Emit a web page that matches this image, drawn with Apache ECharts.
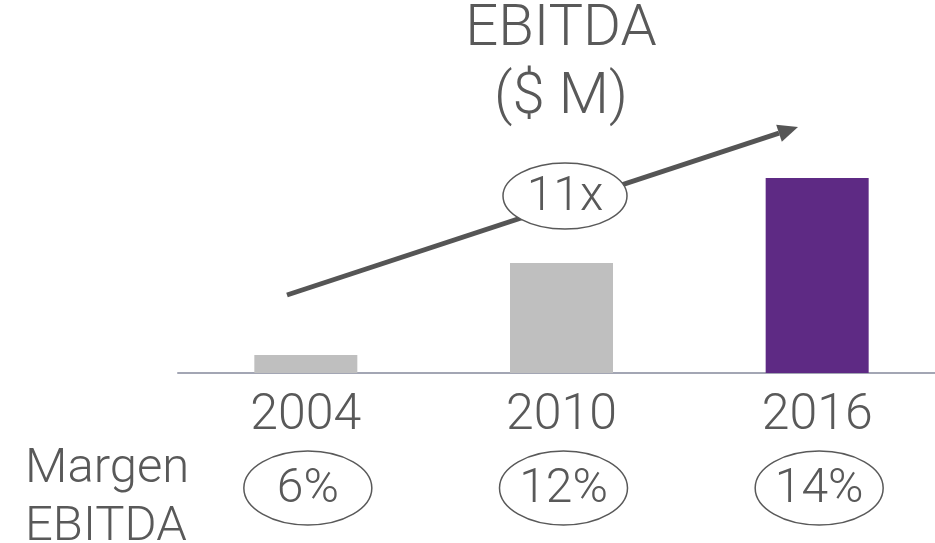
<!DOCTYPE html>
<html>
<head>
    <meta charset="utf-8">
    <title>EBITDA</title>
    <script src="https://cdn.jsdelivr.net/npm/echarts@6/dist/echarts.min.js"></script>
    <style>
        html, body { margin: 0; padding: 0; background: #fff; }
    </style>
</head>
<body>
    <div id="main" style="width: 935px;height:543px;"></div>
    <script type="text/javascript">
        // datos
        var years = ['2004', '2010', '2016'];
        var ebitda = [9, 55, 97.5];          // $ M (aprox.)
        var margins = [6, 12, 14];           // margen EBITDA %
        var barColors = ['#bfbfbf', '#bfbfbf', '#5e2a84'];

        var txt = '#595959';
        var font = 'Roboto';

        var myChart = echarts.init(document.getElementById('main'));

        var multiple = Math.round(ebitda[ebitda.length - 1] / ebitda[0]);

        // flecha (tip / cuerpo)
        var tip = [798, 127], start = [287, 295];
        var dx = tip[0] - start[0], dy = tip[1] - start[1];
        var len = Math.sqrt(dx * dx + dy * dy);
        var ux = dx / len, uy = dy / len;
        var headLen = 20, headW = 9;
        var bx = tip[0] - ux * headLen, by = tip[1] - uy * headLen;

        var option = {
            animation: false,
            title: {
                text: 'EBITDA\n($ M)',
                left: 561,
                top: -4,
                padding: 0,
                textAlign: 'center',
                textStyle: {
                    color: txt,
                    fontFamily: font,
                    fontWeight: 300,
                    fontSize: 58,
                    lineHeight: 68
                }
            },
            grid: {
                left: 178, width: 767, top: 173, bottom: 170,
                outerBoundsMode: 'none', containLabel: false
            },
            xAxis: {
                type: 'category',
                data: years,
                axisLine: { lineStyle: { color: '#a3a6b4', width: 2 } },
                axisTick: { show: false },
                axisLabel: {
                    color: txt,
                    fontFamily: font,
                    fontWeight: 300,
                    fontSize: 50,
                    margin: 18
                }
            },
            yAxis: {
                type: 'value',
                min: 0,
                max: 100,
                show: false,
                splitLine: { show: false }
            },
            series: [{
                name: 'EBITDA',
                type: 'bar',
                barWidth: 103,
                data: ebitda.map(function (v, i) {
                    return { value: v, itemStyle: { color: barColors[i] } };
                })
            }, {
                name: 'Margen',
                type: 'custom',
                clip: false,
                data: margins.map(function (m, i) { return [i, m]; }),
                renderItem: function (params, api) {
                    var p = api.coord([api.value(0), 0]);
                    var cx = p[0] + 2, cy = p[1] + 115;
                    return {
                        type: 'group',
                        children: [{
                            type: 'ellipse',
                            shape: { cx: cx, cy: cy, rx: 64, ry: 37 },
                            style: { fill: '#fff', stroke: txt, lineWidth: 1.5 }
                        }, {
                            type: 'text',
                            x: cx,
                            y: cy + 2,
                            style: {
                                text: api.value(1) + '%',
                                fill: txt,
                                font: '300 48px ' + font,
                                align: 'center',
                                verticalAlign: 'middle'
                            }
                        }]
                    };
                }
            }],
            graphic: [{
                type: 'text',
                left: 25,
                top: 441,
                style: {
                    text: 'Margen\nEBITDA',
                    fill: txt,
                    font: '300 49px ' + font,
                    lineHeight: 58
                }
            }, {
                type: 'line',
                shape: { x1: start[0], y1: start[1], x2: bx, y2: by },
                style: { stroke: '#555555', lineWidth: 5 }
            }, {
                type: 'polygon',
                shape: {
                    points: [
                        tip,
                        [bx - uy * headW, by + ux * headW],
                        [bx + uy * headW, by - ux * headW]
                    ]
                },
                style: { fill: '#555555' }
            }, {
                type: 'ellipse',
                shape: { cx: 565, cy: 196, rx: 62, ry: 33 },
                style: { fill: '#fff', stroke: txt, lineWidth: 1.5 }
            }, {
                type: 'text',
                x: 565,
                y: 198,
                style: {
                    text: multiple + 'x',
                    fill: txt,
                    font: '300 48px ' + font,
                    align: 'center',
                    verticalAlign: 'middle'
                }
            }]
        };

        myChart.setOption(option);
    </script>
</body>
</html>
